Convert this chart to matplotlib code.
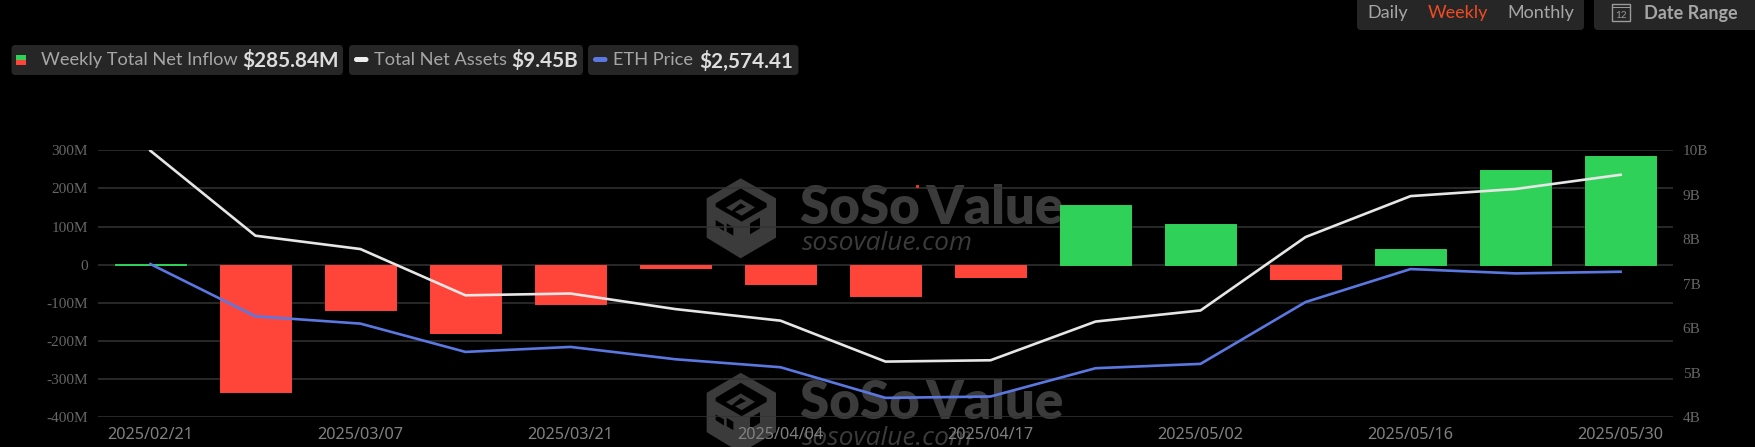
import matplotlib
matplotlib.use('Agg')
import matplotlib.pyplot as plt
from matplotlib.patches import FancyBboxPatch, Polygon, Rectangle
from matplotlib.transforms import Affine2D

dates = ['2025/02/21', '2025/02/28', '2025/03/07', '2025/03/14', '2025/03/21',
         '2025/03/28', '2025/04/04', '2025/04/11', '2025/04/17', '2025/04/25',
         '2025/05/02', '2025/05/09', '2025/05/16', '2025/05/23', '2025/05/30']
net_inflow = [0.5, -335, -120, -178, -103, -8, -50, -82, -32, 156, 105.6, -37.5, 41, 248, 285.84]
net_assets = [9.99, 8.08, 7.78, 6.74, 6.78, 6.43, 6.17, 5.25, 5.28, 6.15, 6.40, 8.05, 8.97, 9.13, 9.45]
eth_price = [2636, 2217, 2158, 1931, 1971, 1872, 1808, 1562, 1573, 1800, 1835, 2331, 2596, 2561, 2574.41]

left_ticks = [300, 200, 100, 0, -100, -200, -300, -400]
left_labels = ['300M', '200M', '100M', '0', '-100M', '-200M', '-300M', '-400M']
right_ticks = [4, 5, 6, 7, 8, 9, 10]
right_labels = ['4B', '5B', '6B', '7B', '8B', '9B', '10B']
shown_dates = dates[::2]

GREEN = '#30d158'
RED = '#ff453a'
WHITE = '#e6e6e6'
BLUE = '#5b78e0'
MARK = '#3b3b3b'
W, H = 1755, 447

fig = plt.figure(figsize=(W / 100, H / 100), dpi=100, facecolor='black')

# everything outside the plot area is placed in screenshot pixels, y going down
pix = Affine2D().scale(1 / W, 1 / H) + fig.transFigure


def px(x, y):
    return x / W, 1 - y / H


def box(x0, y0, x1, y1, color='#262626'):
    fig.add_artist(FancyBboxPatch((x0, H - y1), x1 - x0, y1 - y0,
                                  boxstyle='round,pad=0,rounding_size=4',
                                  transform=pix, facecolor=color, edgecolor='none'))


def label(x, y, s, color='#a6a6a6', size=18, weight='normal', ha='left', family='Lato', **kw):
    fig.text(*px(x, y), s, color=color, fontsize=size * 0.72, fontweight=weight,
             ha=ha, va='center', family=family, **kw)


def logo_part(points, color, dy, z):
    # logo outline traced on a 3x crop starting at (700, 175)
    fig.add_artist(Polygon([(700 + x / 3, H - (175 + y / 3) - dy) for x, y in points], closed=True,
                           transform=pix, facecolor=color, edgecolor='none', zorder=z))


# watermarks, behind the chart
for dy in [0, 194.5]:
    fig.text(*px(800, 209 + dy), 'SoSo\u2009Value', color=MARK, fontsize=38, fontweight='heavy',
             family='Lato', ha='left', va='center', zorder=-2)
    fig.text(*px(802, 244 + dy), 'sosovalue.com', color=MARK, fontsize=19, style='italic',
             family='Open Sans', ha='left', va='center', zorder=-2)
    logo_part([(122, 10), (228, 70), (228, 188), (122, 250), (20, 188), (20, 70)], MARK, dy, -2)
    logo_part([(122, 40), (200, 85), (200, 97), (125, 140), (47, 95), (47, 85)], 'black', dy, -1.8)
    logo_part([(78, 98), (122, 72), (165, 97), (125, 122), (105, 110), (138, 95), (122, 85), (95, 108)],
              MARK, dy, -1.6)
    logo_part([(150, 145), (180, 128), (180, 160), (150, 178)], 'black', dy, -1.8)
    logo_part([(47, 135), (72, 150), (72, 168), (47, 152)], 'black', dy, -1.8)
    logo_part([(80, 145), (100, 157), (100, 182), (80, 170)], 'black', dy, -1.8)

ax = fig.add_axes([97.9 / W, 1 - 417.2 / H, (1673.1 - 97.9) / W, (417.2 - 150.3) / H])
ax.set_facecolor('none')
ax.bar(range(len(dates)), net_inflow, width=0.678,
       color=[GREEN if v >= 0 else RED for v in net_inflow],
       edgecolor=[GREEN if v >= 0 else RED for v in net_inflow],
       linewidth=0.7, joinstyle='round', zorder=3)
ax.set_xlim(-0.5, len(dates) - 0.5)
ax.set_ylim(-400, 300)
ax.set_yticks(left_ticks, left_labels)
ax.set_xticks(range(0, len(dates), 2), shown_dates)
ax.grid(axis='y', color='#333333', linewidth=1.1, zorder=0)
ax.set_axisbelow(True)
ax.tick_params(axis='y', length=0, pad=7, labelcolor='#666666', labelsize=11)
ax.tick_params(axis='x', length=0, pad=7, labelcolor='#808080', labelsize=11.7)
for t in ax.get_yticklabels():
    t.set_family('Liberation Serif')
for t in ax.get_xticklabels():
    t.set_family('Noto Sans')
for s in ax.spines.values():
    s.set_visible(False)

ax2 = ax.twinx()
ax2.plot(range(len(dates)), net_assets, color=WHITE, linewidth=1.9, zorder=4)
ax2.set_ylim(4, 10)
ax2.set_yticks(right_ticks, right_labels)
ax2.tick_params(axis='y', length=0, pad=7, labelcolor='#666666', labelsize=11)
for t in ax2.get_yticklabels():
    t.set_family('Liberation Serif')
for s in ax2.spines.values():
    s.set_visible(False)

ax3 = ax.twinx()
ax3.plot(range(len(dates)), eth_price, color=BLUE, linewidth=1.9, zorder=4)
ax3.set_ylim(1407, 3549)
ax3.axis('off')

# stray red dot above the watermark
fig.add_artist(Rectangle((916.5, H - 187.5), 3, 3, transform=pix, facecolor='#e0332b', edgecolor='none'))

# legend chips
box(11.5, 45, 343, 75)
fig.add_artist(Rectangle((16, H - 60), 10, 5, transform=pix, facecolor=GREEN, edgecolor='none'))
fig.add_artist(Rectangle((16, H - 65), 10, 5, transform=pix, facecolor=RED, edgecolor='none'))
label(41, 60, 'Weekly Total Net Inflow', size=18.3)
label(242, 61, '$285.84M', color='#dddddd', size=20.8, weight='bold')

box(349, 45, 583, 75)
fig.add_artist(FancyBboxPatch((354, H - 62), 14.5, 5, boxstyle='round,pad=0,rounding_size=2.5',
                              transform=pix, facecolor='#eeeeee', edgecolor='none'))
label(374, 60, 'Total Net Assets', size=18.3)
label(511, 61, '$9.45B', color='#dddddd', size=20.8, weight='bold')

box(588, 45, 798.5, 75)
fig.add_artist(FancyBboxPatch((593, H - 62), 14.5, 5, boxstyle='round,pad=0,rounding_size=2.5',
                              transform=pix, facecolor=BLUE, edgecolor='none'))
label(613, 60, 'ETH Price', size=18.3)
label(699, 61, '$2,574.41', color='#dddddd', size=20.8, weight='bold')

# period switch and date range
box(1357, -6, 1584, 30)
box(1594, -6, 1761, 30)
label(1367, 13, 'Daily', size=18)
label(1428, 13, 'Weekly', color='#f04a23', size=18)
label(1507, 13, 'Monthly', size=18)
label(1644, 13, 'Date Range', size=18, weight='bold')
fig.add_artist(Rectangle((1612.5, H - 21), 18, 17, transform=pix, fill=False,
                         edgecolor='#9a9a9a', linewidth=1))
fig.add_artist(Rectangle((1612.5, H - 8), 18, 0.8, transform=pix, facecolor='#9a9a9a', edgecolor='none'))
label(1621.5, 15, '12', color='#9a9a9a', size=10, ha='center')

fig.savefig('out.png', dpi=100, facecolor='black')
